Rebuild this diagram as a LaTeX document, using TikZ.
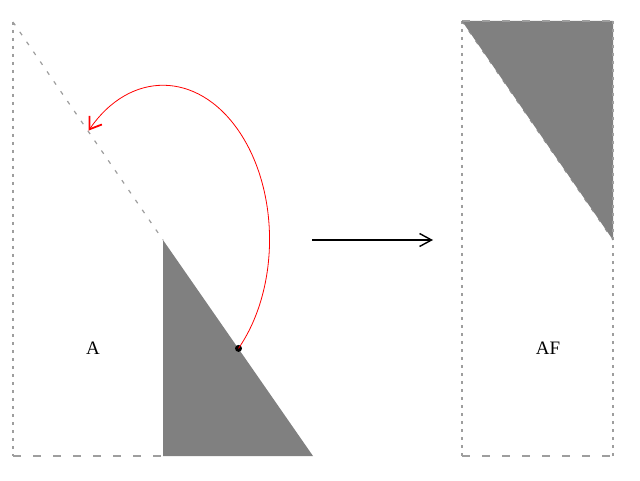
\documentclass[tikz,border=0pt]{standalone}
\usepackage{fontspec}
\setmainfont{Liberation Serif}
\usetikzlibrary{arrows.meta}
\tikzset{
  vedge/.style={draw=black!38, line width=1.6pt, dash pattern=on 3pt off 5pt},
  hedge/.style={draw=black!38, line width=1.6pt, dash pattern=on 8pt off 12pt},
  dedge/.style={draw=black!38, line width=1.2pt, dash pattern=on 4pt off 8pt},
  part/.style={fill=black!50, draw=none},
  lbl/.style={font=\fontsize{19}{21}\selectfont, inner sep=0pt},
  turn/.style={draw=red, line width=0.8pt, -{Straight Barb[length=11pt,width=15pt,line width=1.8pt]}},
  mapto/.style={draw=black, line width=1.4pt, -{Straight Barb[length=12pt,width=13pt,line width=1.4pt]}}
}
\begin{document}
\begin{tikzpicture}[x=1pt,y=1pt]
\useasboundingbox (0,0) rectangle (640,480);
% left panel coordinates
\coordinate (LT) at (13,458);
\coordinate (LB) at (13,24);
\coordinate (MB) at (163,24);
\coordinate (C) at (163,240);
\coordinate (RB) at (313,24);
% right panel coordinates
\coordinate (QTL) at (462,459);
\coordinate (QBL) at (462,24);
\coordinate (QBR) at (613,24);
\coordinate (QTR) at (613,459);
\coordinate (QM) at (613,240);
% left panel
\fill[part] (C) -- (MB) -- (RB) -- cycle;
\draw[vedge] (LT) -- (LB);
\draw[hedge] (LB) -- (MB);
\draw[dedge] (LT) -- (C);
\node[lbl] (A) at (93,132) {A};
% red rotation arc
\coordinate (S) at (238.5,131.6);
\fill[black] (S) circle (3.5pt);
\draw[turn] (S) arc[start angle=-45, end angle=135, x radius=106, y radius=154];
% mapping arrow
\coordinate (P1) at (312,240);
\coordinate (P2) at (433,240);
\draw[mapto] (P1) -- (P2);
% right panel
\fill[part] (QTL) -- (QTR) -- (QM) -- cycle;
\draw[vedge] (QTL) -- (QBL);
\draw[vedge] (QBR) -- (QTR);
\draw[hedge] (QBL) -- (QBR);
\draw[hedge] (QTL) -- (QTR);
\draw[dedge, draw=black!45] (QTL) -- (QM);
\node[lbl] (AF) at (548,132) {AF};
\end{tikzpicture}
\end{document}
